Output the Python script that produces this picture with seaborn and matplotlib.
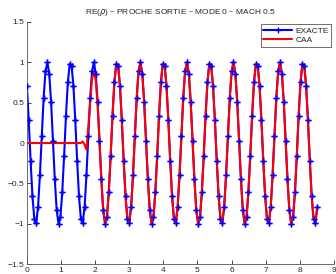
# RE(rho) near the outlet, mode 0, Mach 0.5 -- exact solution vs CAA
import numpy as np
import seaborn as sns
import matplotlib
matplotlib.use("Agg")
import matplotlib.pyplot as plt

# values (157 samples from x=0 to x=8.51)
exacte = [
    0.71, 0.28, -0.22, -0.66, -0.94, -0.99, -0.79, -0.40, 0.09, 0.56, 0.89, 1.00, 0.86,
    0.51, 0.03, -0.45, -0.83, -1.00, -0.92, -0.61, -0.16, 0.34, 0.75, 0.98, 0.96,
    0.71, 0.28, -0.22, -0.66, -0.94, -0.99, -0.79, -0.40, 0.09, 0.56, 0.89, 1.00, 0.86,
    0.51, 0.03, -0.45, -0.83, -1.00, -0.92, -0.61, -0.16, 0.34, 0.75, 0.98, 0.96,
    0.71, 0.28, -0.22, -0.66, -0.94, -0.99, -0.79, -0.40, 0.09, 0.56, 0.89, 1.00, 0.86,
    0.51, 0.03, -0.45, -0.83, -1.00, -0.92, -0.61, -0.16, 0.34, 0.75, 0.98, 0.96,
    0.71, 0.28, -0.22, -0.66, -0.94, -0.99, -0.79, -0.40, 0.09, 0.56, 0.89, 1.00, 0.86,
    0.51, 0.03, -0.45, -0.83, -1.00, -0.92, -0.61, -0.16, 0.34, 0.75, 0.98, 0.96,
    0.71, 0.28, -0.22, -0.66, -0.94, -0.99, -0.79, -0.40, 0.09, 0.56, 0.89, 1.00, 0.86,
    0.51, 0.03, -0.45, -0.83, -1.00, -0.92, -0.61, -0.16, 0.34, 0.75, 0.98, 0.96,
    0.71, 0.28, -0.22, -0.66, -0.94, -0.99, -0.79, -0.40, 0.09, 0.56, 0.89, 1.00, 0.86,
    0.51, 0.03, -0.45, -0.83, -1.00, -0.92, -0.61, -0.16, 0.34, 0.75, 0.98, 0.96,
    0.71, 0.28, -0.22, -0.66, -0.94, -0.99, -0.79,
]

# CAA: zero until the wave arrives, then follows the exact solution
caa_debut = [0.0] * 30 + [0.02, -0.02, -0.08, 0.20, 0.50, 0.80, 0.88, 0.78, 0.48, 0.03]
caa = caa_debut + exacte[40:]

x = np.linspace(0, 8.51, len(exacte))

xticks = [0, 1, 2, 3, 4, 5, 6, 7, 8, 9]
yticks = [-1.5, -1, -0.5, 0, 0.5, 1, 1.5]
ylabels = ["\u22121.5", "\u22121", "\u22120.5", "0", "0.5", "1", "1.5"]

sns.set_style("ticks")
plt.rcParams['font.family'] = ['Liberation Sans', 'DejaVu Sans']

fig = plt.figure(figsize=(3.36, 2.74), dpi=100)
ax = fig.add_axes([0.080, 0.036, 0.914, 0.884])

sns.lineplot(x=x, y=exacte, color="blue", lw=1.5, marker="+", markersize=5,
             mew=1.0, mec="blue", label="EXACTE", ax=ax, estimator=None, sort=False)
sns.lineplot(x=x, y=caa, color="red", lw=1.5, label="CAA", ax=ax,
             estimator=None, sort=False)
# blue crosses stay visible over the red curve
ax.plot(x, exacte, ls="none", marker="+", markersize=5, mew=1.0, color="blue", zorder=3)

ax.set_xlim(0, 9)
ax.set_ylim(-1.5, 1.5)
ax.set_xticks(xticks)
ax.set_yticks(yticks)
ax.set_yticklabels(ylabels)
ax.tick_params(direction="in", length=3, width=0.6, labelsize=6, pad=2)
for s in ["top", "right"]:
    ax.spines[s].set_visible(False)
for s in ["left", "bottom"]:
    ax.spines[s].set_linewidth(0.6)
    ax.spines[s].set_color("#555555")

ax.set_title("RE($\\rho$) \u2013 PROCHE SORTIE \u2013 MODE 0 \u2013 MACH 0.5",
             fontsize=6, pad=6)

leg = ax.legend(loc="upper right", fontsize=6, frameon=True, fancybox=False,
                borderpad=0.3, handlelength=3.5, handletextpad=0.4,
                labelspacing=0.2, borderaxespad=0.3)
leg.get_frame().set_edgecolor("black")
leg.get_frame().set_linewidth(0.5)

fig.savefig("out.png", dpi=100)
